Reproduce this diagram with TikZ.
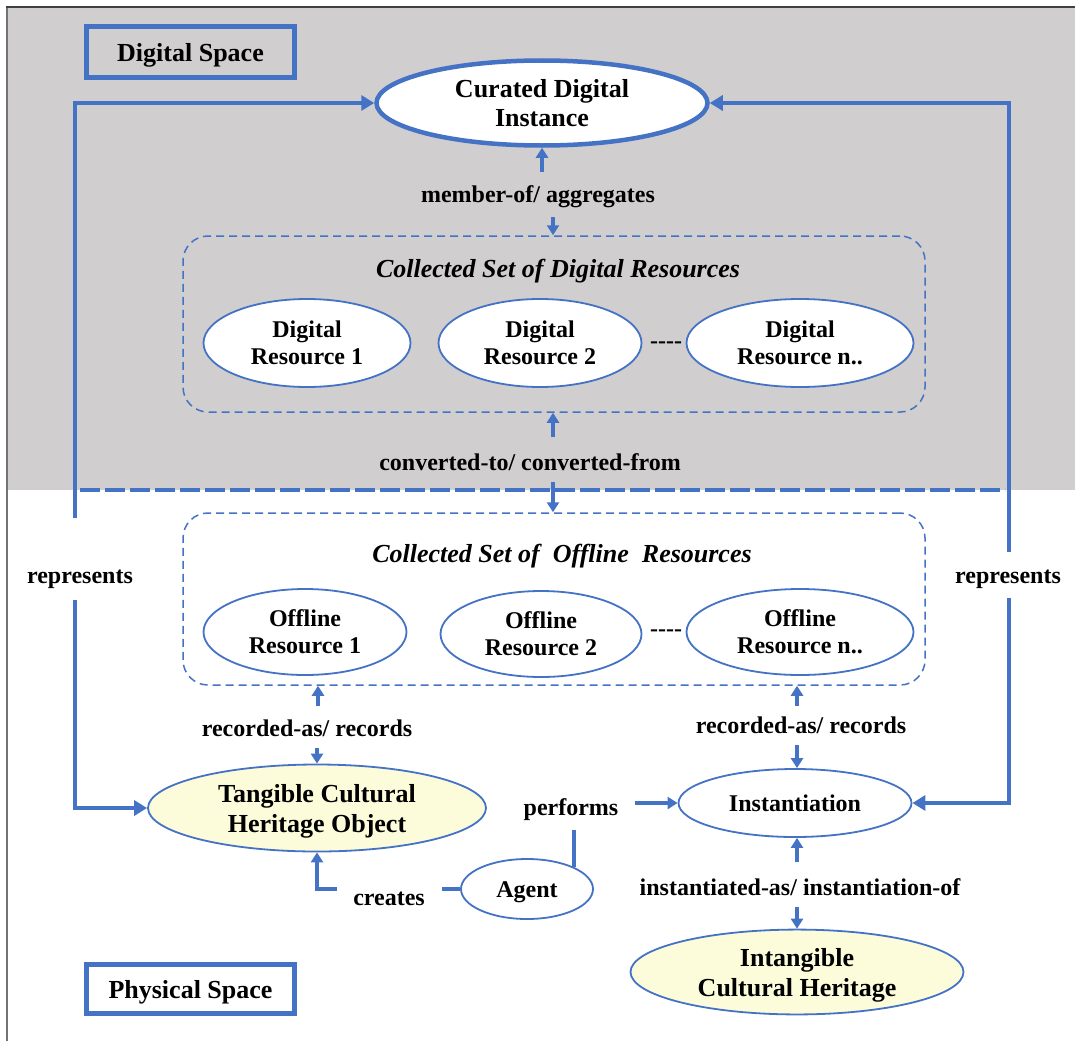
\documentclass[tikz,border=0pt]{standalone}
\usepackage{fontspec}
\setmainfont{Liberation Serif}
\usetikzlibrary{shapes.geometric,arrows.meta,calc}
\definecolor{linkblue}{RGB}{68,114,196}
\definecolor{spacegray}{RGB}{208,206,207}
\definecolor{heritage}{RGB}{252,252,218}
% node text set a little below the geometric centre of its shape
\newcommand\lowtext[1]{\raisebox{-3pt}[\height][\depth]{\begin{tabular}{@{}c@{}}#1\end{tabular}}}
% a row of hyphens that must not turn into dashes
\newcommand\hyphenrow{-\kern0pt-\kern0pt-\kern0pt-}

\begin{document}
\begin{tikzpicture}[x=1pt,y=-1pt,
  bigfont/.style={font=\fontsize{26}{30}\selectfont\bfseries},
  smallfont/.style={font=\fontsize{24}{27}\selectfont\bfseries},
  oval/.style={ellipse, draw=linkblue, line width=1.8pt, fill=white, inner sep=0pt, smallfont},
  heritagenode/.style={oval, fill=heritage, bigfont},
  spacebox/.style={draw=linkblue, line width=5pt, inner sep=0pt, bigfont},
  setbox/.style={draw=linkblue, line width=1.5pt, dash pattern=on 8pt off 5pt, rounded corners=25pt, inner sep=0pt},
  settitle/.style={font=\fontsize{26}{30}\selectfont\bfseries\itshape, inner sep=0pt},
  lbl/.style={smallfont, inner sep=0pt},
  rep/.style={draw=linkblue, line width=4.5pt, -{Triangle[length=13pt,width=15pt]}},
  link/.style={draw=linkblue, line width=4pt, -{Triangle[length=10pt,width=12pt]}},
  plain/.style={draw=linkblue, line width=4pt},
]
\useasboundingbox (0,0) rectangle (1075,1041);

% digital space background and frame
\fill[spacegray] (7,7) rectangle (1075,490);
\draw[black!75, line width=2pt] (7,1041) -- (7,7) -- (1075,7);
\draw[black!55, line width=1.5pt] (7,1041) -- (7,8);

% boundary between the digital and the physical space
\draw[linkblue, line width=4.5pt, dash pattern=on 20pt off 5pt] (80,490) -- (1005,490);

% space labels
\node[spacebox, minimum width=208pt, minimum height=51pt] (dspace) at (190.5,52) {\lowtext{Digital Space}};
\node[spacebox, minimum width=208pt, minimum height=49pt, fill=white] (pspace) at (190.5,989) {\lowtext{Physical Space}};

% curated instance
\node[oval, bigfont, line width=4.5pt, minimum width=331pt, minimum height=85pt] (curated) at (542,103) {\lowtext{Curated Digital\\Instance}};

% collected set of digital resources
\node[setbox, minimum width=742pt, minimum height=176pt] (dset) at (554,324) {};
\node[settitle] (dtitle) at (558,271) {Collected Set of Digital Resources};
\node[oval, minimum width=207pt, minimum height=88pt] (dr1) at (307,343) {\lowtext{Digital\\Resource 1}};
\node[oval, minimum width=203pt, minimum height=88pt] (dr2) at (540,343) {\lowtext{Digital\\Resource 2}};
\node[oval, minimum width=227pt, minimum height=88pt] (drn) at (800,343) {\lowtext{Digital\\Resource n..}};
\node[lbl] (ddots) at (666,345) {\hyphenrow};

% collected set of offline resources
\node[setbox, minimum width=742pt, minimum height=172pt, fill=white] (oset) at (554,599) {};
\node[settitle] (otitle) at (562,556) {Collected Set of\ \ Offline\ \ Resources};
\node[oval, minimum width=203pt, minimum height=86pt] (or1) at (305,632) {\lowtext{Offline\\Resource 1}};
\node[oval, minimum width=201pt, minimum height=86pt] (or2) at (541,634) {\lowtext{Offline\\Resource 2}};
\node[oval, minimum width=227pt, minimum height=86pt] (orn) at (800,632) {\lowtext{Offline\\Resource n..}};
\node[lbl] (odots) at (666,633) {\hyphenrow};

% physical entities
\node[heritagenode, minimum width=338pt, minimum height=87pt] (tangible) at (317,808) {\lowtext{Tangible Cultural\\Heritage Object}};
\node[oval, minimum width=233pt, minimum height=68pt] (inst) at (795,803) {\lowtext{Instantiation}};
\node[oval, minimum width=132pt, minimum height=60pt] (agent) at (527,889) {\lowtext{Agent}};
\node[heritagenode, minimum width=333pt, minimum height=83pt] (intang) at (797,972) {\lowtext{Intangible\\Cultural Heritage}};

% relation labels
\node[lbl] (memlbl) at (538,197) {member-of/ aggregates};
\node[lbl] (convlbl) at (530,462) {converted-to/ converted-from};
\node[lbl] (rec1lbl) at (307,728) {recorded-as/ records};
\node[lbl] (rec2lbl) at (801,725) {recorded-as/ records};
\node[lbl] (instlbl) at (800,887) {instantiated-as/ instantiation-of};
\node[lbl] (perflbl) at (571,810) {performs};
\node[lbl] (crelbl) at (389,899) {creates};
\node[lbl] (repL) at (80,579) {represents};
\node[lbl] (repR) at (1008,579) {represents};

% represents connectors
\coordinate (lt) at (75,103);
\coordinate (lb) at (75,808);
\coordinate (lgap1) at (75,518);
\coordinate (lgap2) at (75,600);
\draw[rep] (lgap1) -- (lt) -- (curated.west);
\draw[rep] (lgap2) -- (lb) -- (tangible.west);
\coordinate (rt) at (1009,103);
\coordinate (rb) at (1009,803);
\coordinate (rgap1) at (1009,552);
\coordinate (rgap2) at (1009,598);
\draw[rep] (rgap1) -- (rt) -- (curated.east);
\draw[rep] (rgap2) -- (rb) -- (inst.east);

% member-of / aggregates
\coordinate (m1) at (542,172);
\coordinate (m2) at (553,217);
\draw[link] (m1) -- (curated.south);
\draw[link] (m2) -- (m2 |- dset.north);

% converted-to / converted-from
\coordinate (c1) at (553,437);
\coordinate (c2) at (553,482);
\draw[link] (c1) -- (c1 |- dset.south);
\draw[link] (c2) -- (c2 |- oset.north);

% recorded-as / records
\coordinate (r1) at (318,706);
\coordinate (r2) at (317,748);
\draw[link] (r1) -- (r1 |- oset.south);
\draw[link] (r2) -- (tangible.north);
\coordinate (r3) at (797,706);
\coordinate (r4) at (797,745);
\draw[link] (r3) -- (r3 |- oset.south);
\draw[link] (r4) -- (r4 |- inst.north);

% instantiated-as / instantiation-of
\coordinate (i1) at (797,862);
\coordinate (i2) at (797,907);
\draw[link] (i1) -- (i1 |- inst.south);
\draw[link] (i2) -- (i2 |- intang.north);

% creates
\coordinate (cr1) at (442,889);
\coordinate (cr2) at (337,889);
\draw[plain] (agent.west) -- (cr1);
\draw[link] (cr2) -- (tangible.south |- cr2) -- (tangible.south);

% performs
\coordinate (pf1) at (574,830);
\coordinate (pf2) at (635,803);
\draw[plain] (agent.25) -- (agent.25 |- pf1);
\draw[link] (pf2) -- (inst.west);
\end{tikzpicture}
\end{document}
